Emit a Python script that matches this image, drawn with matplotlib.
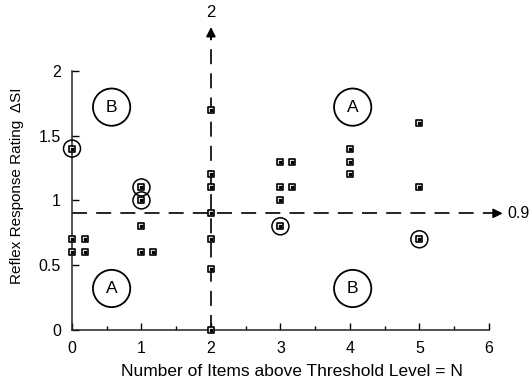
import numpy as np
import matplotlib
matplotlib.use("Agg")
import matplotlib.pyplot as plt

plt.rcParams['font.family'] = ['Liberation Sans', 'DejaVu Sans']

# plain data points
n_items = [0, 0.18, 0, 0.18, 1, 1, 1.16,
           2, 2, 2, 2, 2, 2, 2,
           3, 3.16, 3, 3.16, 3,
           4, 4, 4, 5, 5]
rating = [0.7, 0.7, 0.6, 0.6, 0.8, 0.6, 0.6,
          1.7, 1.2, 1.1, 0.9, 0.7, 0.47, 0.0,
          1.3, 1.3, 1.1, 1.1, 1.0,
          1.4, 1.3, 1.2, 1.6, 1.1]

# circled data points
circ_n = [0, 1, 1, 3, 5]
circ_r = [1.4, 1.1, 1.0, 0.8, 0.7]

# quadrant labels
quad_text = ["B", "A", "A", "B"]
quad_x = [0.57, 4.04, 0.57, 4.04]
quad_y = [1.72, 1.72, 0.32, 0.32]

n_thresh = 2
r_thresh = 0.9

fig = plt.figure(figsize=(5.31, 3.81), dpi=100)
ax = fig.add_axes([0.1356, 0.134, 0.785, 0.68])

ax.set_xlim(0, 6)
ax.set_ylim(0, 2)
for s in ["top", "right"]:
    ax.spines[s].set_visible(False)
for s in ["left", "bottom"]:
    ax.spines[s].set_linewidth(1.1)
    ax.spines[s].set_color("#2a1f22")

ax.set_xticks(range(7))
ax.set_xticks(np.arange(0.5, 6, 1), minor=True)
ax.set_yticks([0, 0.5, 1, 1.5, 2])
ax.set_yticklabels(["0", "0.5", "1", "1.5", "2"])
ax.tick_params(direction="in", length=5, width=1, labelsize=11.5, pad=8)
ax.tick_params(which="minor", direction="in", length=3, width=1)

# threshold lines with arrows
dash = (0, (9, 5.5))
ax.plot([n_thresh, n_thresh], [0, 2.3], color="black", lw=1.2,
        linestyle=dash, clip_on=False, zorder=1)
ax.annotate("", xy=(n_thresh, 2.36), xytext=(n_thresh, 2.22),
            arrowprops=dict(arrowstyle="-|>", color="black", lw=1.2,
                            mutation_scale=14),
            annotation_clip=False)
ax.text(n_thresh, 2.45, "2", ha="center", va="center", fontsize=12,
        clip_on=False)

ax.plot([0, 6.1], [r_thresh, r_thresh], color="black", lw=1.2,
        linestyle=dash, clip_on=False, zorder=1)
ax.annotate("", xy=(6.24, r_thresh), xytext=(6.05, r_thresh),
            arrowprops=dict(arrowstyle="-|>", color="black", lw=1.2,
                            mutation_scale=14),
            annotation_clip=False)
ax.text(6.26, r_thresh, "0.9", ha="left", va="center", fontsize=11.5,
        clip_on=False)

# points
ax.scatter(n_items + circ_n, rating + circ_r, marker="s", s=22,
           facecolor="white", edgecolor="black", linewidth=1.2,
           zorder=3, clip_on=False)
ax.scatter(n_items + circ_n, rating + circ_r, marker="s", s=1.5,
           color="black", zorder=4, clip_on=False)
ax.scatter(circ_n, circ_r, marker="o", s=150, facecolor="none",
           edgecolor="black", linewidth=1.1, zorder=3, clip_on=False)

for t, x, y in zip(quad_text, quad_x, quad_y):
    ax.scatter([x], [y], marker="o", s=720, facecolor="none",
               edgecolor="black", linewidth=1.3, zorder=2)
    ax.text(x, y, t, ha="center", va="center", fontsize=12.5)

ax.set_xlabel("Number of Items above Threshold Level = N", fontsize=12.5,
              labelpad=8)
ax.xaxis.set_label_coords(0.527, -0.13)
ax.set_ylabel("Reflex Response Rating  \u0394SI", fontsize=11)
ax.yaxis.set_label_coords(-0.115, 0.556)

fig.savefig("out.png", dpi=100)
